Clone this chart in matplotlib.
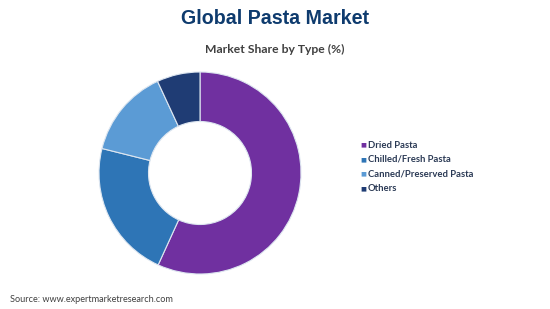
import matplotlib.pyplot as plt

labels = ["Dried Pasta", "Chilled/Fresh Pasta", "Canned/Preserved Pasta", "Others"]
shares = [56.8, 22.1, 14.2, 6.9]
colors = ["#7030A0", "#2E75B6", "#5B9BD5", "#1F3C74"]

fig = plt.figure(figsize=(5.5, 3.09), dpi=100)
ax = fig.add_axes([200/550 - 101/550, 1 - (173 + 101)/309, 202/550, 202/309])

ax.pie(shares, colors=colors, startangle=90, counterclock=False,
       wedgeprops=dict(width=0.49, edgecolor="#DDE6F0", linewidth=0.8))
ax.set_aspect("equal")
ax.set_xlim(-1, 1)
ax.set_ylim(-1, 1)

fig.text(0.5, 1 - 19/309, "Global Pasta Market", ha="center", va="center",
         fontsize=14.1, fontweight="bold", color="#0E3B6E", family="Liberation Sans")
fig.text(0.5, 1 - 49/309, "Market Share by Type (%)", ha="center", va="center",
         fontsize=8.7, fontweight="bold", color="#404040", family="Lato")

# legend drawn by hand: small squares + labels
rows_y = [145, 159.5, 174, 188.5]
for lab, col, y in zip(labels, colors, rows_y):
    fig.text(363/550, 1 - y/309, "\u25A0", ha="center", va="center",
             fontsize=4.5, color=col)
    fig.text(368/550, 1 - y/309, lab, ha="left", va="center",
             fontsize=6.8, fontweight="bold", color="#2B3A55", family="Lato")

fig.text(10/550, 1 - 300/309, "Source: www.expertmarketresearch.com", ha="left",
         va="center", fontsize=6.6, color="#404040", family="Lato")

fig.savefig("out.png", dpi=100)
